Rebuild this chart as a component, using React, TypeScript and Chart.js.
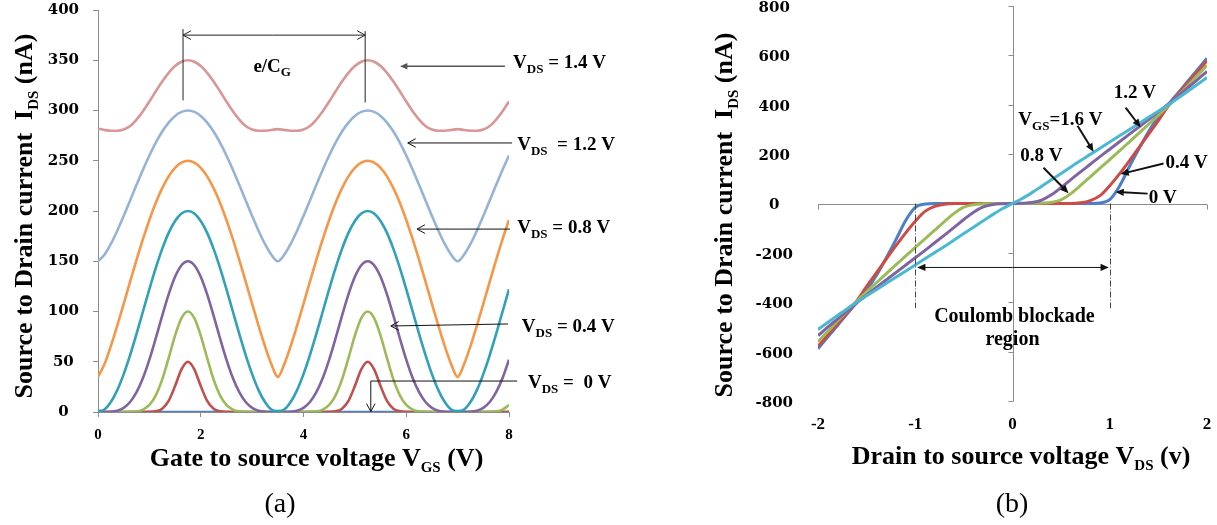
import React, { useEffect, useRef } from 'react';
import { Chart, registerables } from 'chart.js';

Chart.register(...registerables);

const SERIF = '"Liberation Serif", "Times New Roman", serif';
const TICK_SERIF = '"DejaVu Serif", serif';
const AXIS_GRAY = '#8C8C8C';

// ---------------- Panel (a): I_DS vs V_GS ----------------
const vgs = [
  0, 0.125, 0.25, 0.375, 0.5, 0.625, 0.75, 0.875, 1, 1.125, 1.25, 1.375, 1.5, 1.625, 1.75,
  1.875, 2, 2.125, 2.25, 2.375, 2.5, 2.625, 2.75, 2.875, 3, 3.125, 3.25, 3.375, 3.5,
  3.625, 3.75, 3.875, 4, 4.125, 4.25, 4.375, 4.5, 4.625, 4.75, 4.875, 5, 5.125, 5.25,
  5.375, 5.5, 5.625, 5.75, 5.875, 6, 6.125, 6.25, 6.375, 6.5, 6.625, 6.75, 6.875, 7,
  7.125, 7.25, 7.375, 7.5, 7.625, 7.75, 7.875, 8,
];
const ids_vds14 = [
  282, 280.6, 279.8, 279.8, 281, 284.5, 291.0, 299.3, 308.9, 319.1, 328.9, 337.5, 344.2, 348.5, 350,
  348.5, 344.2, 337.5, 328.9, 319.1, 308.9, 299.3, 291.0, 284.5, 281, 279.9, 279.9, 280.6, 281.5,
  280.6, 279.9, 279.9, 281, 284.5, 291.0, 299.3, 308.9, 319.1, 328.9, 337.5, 344.2, 348.5, 350,
  348.5, 344.2, 337.5, 328.9, 319.1, 308.9, 299.3, 291.0, 284.5, 281, 279.9, 279.9, 280.6, 281.5,
  280.6, 279.9, 279.9, 281, 284.5, 291.0, 299.3, 308.9,
];
const ids_vds12 = [
  150, 156.4, 167.2, 180.4, 195.1, 210.5, 226.0, 241.1, 255.2, 268.1, 279.1, 288.0, 294.6, 298.6, 300,
  298.6, 294.6, 288.0, 279.1, 268.1, 255.2, 241.1, 226.0, 210.5, 195.1, 180.4, 167.2, 156.4, 150,
  156.4, 167.2, 180.4, 195.1, 210.5, 226.0, 241.1, 255.2, 268.1, 279.1, 288.0, 294.6, 298.6, 300,
  298.6, 294.6, 288.0, 279.1, 268.1, 255.2, 241.1, 226.0, 210.5, 195.1, 180.4, 167.2, 156.4, 150,
  156.4, 167.2, 180.4, 195.1, 210.5, 226.0, 241.1, 255.2,
];
const ids_vds10 = [
  35, 47.5, 65.5, 85.9, 107.6, 129.7, 151.3, 172.0, 191.1, 208.2, 222.7, 234.5, 243.0, 248.2, 250,
  248.2, 243.0, 234.5, 222.7, 208.2, 191.1, 172.0, 151.3, 129.7, 107.6, 85.9, 65.5, 47.5, 35,
  47.5, 65.5, 85.9, 107.6, 129.7, 151.3, 172.0, 191.1, 208.2, 222.7, 234.5, 243.0, 248.2, 250,
  248.2, 243.0, 234.5, 222.7, 208.2, 191.1, 172.0, 151.3, 129.7, 107.6, 85.9, 65.5, 47.5, 35,
  47.5, 65.5, 85.9, 107.6, 129.7, 151.3, 172.0, 191.1,
];
const ids_vds08 = [
  1, 2.5, 9.9, 21.8, 37.7, 56.6, 77.7, 100, 122.2, 143.4, 162.3, 178.2, 190.1, 197.5, 200,
  197.5, 190.1, 178.2, 162.3, 143.4, 122.2, 100, 77.7, 56.6, 37.7, 21.8, 9.9, 2.5, 1,
  2.5, 9.9, 21.8, 37.7, 56.6, 77.7, 100, 122.2, 143.4, 162.3, 178.2, 190.1, 197.5, 200,
  197.5, 190.1, 178.2, 162.3, 143.4, 122.2, 100, 77.7, 56.6, 37.7, 21.8, 9.9, 2.5, 1,
  2.5, 9.9, 21.8, 37.7, 56.6, 77.7, 100, 122.2,
];
const ids_vds06 = [
  0, 0, 0.2, 1.3, 4.1, 9.9, 19.7, 33.8, 52.1, 73.4, 95.8, 117.0, 134.5, 146.0, 150,
  146.0, 134.5, 117.0, 95.8, 73.4, 52.1, 33.8, 19.7, 9.9, 4.1, 1.3, 0.2, 0, 0,
  0, 0.2, 1.3, 4.1, 9.9, 19.7, 33.8, 52.1, 73.4, 95.8, 117.0, 134.5, 146.0, 150,
  146.0, 134.5, 117.0, 95.8, 73.4, 52.1, 33.8, 19.7, 9.9, 4.1, 1.3, 0.2, 0, 0,
  0, 0.2, 1.3, 4.1, 9.9, 19.7, 33.8, 52.1,
];
const ids_vds04 = [
  0, 0, 0, 0, 0, 0.1, 0.6, 2.4, 7.0, 16.6, 32.4, 53.6, 76.0, 93.4, 100,
  93.4, 76.0, 53.6, 32.4, 16.6, 7.0, 2.4, 0.6, 0.1, 0, 0, 0, 0, 0,
  0, 0, 0, 0, 0.1, 0.6, 2.4, 7.0, 16.6, 32.4, 53.6, 76.0, 93.4, 100,
  93.4, 76.0, 53.6, 32.4, 16.6, 7.0, 2.4, 0.6, 0.1, 0, 0, 0, 0, 0,
  0, 0, 0, 0, 0.1, 0.6, 2.4, 7.0,
];
const ids_vds02 = [
  0, 0, 0, 0, 0, 0, 0, 0, 0.1, 0.7, 3.3, 11.1, 25.8, 42.4, 50,
  42.4, 25.8, 11.1, 3.3, 0.7, 0.1, 0, 0, 0, 0, 0, 0, 0, 0,
  0, 0, 0, 0, 0, 0, 0, 0.1, 0.7, 3.3, 11.1, 25.8, 42.4, 50,
  42.4, 25.8, 11.1, 3.3, 0.7, 0.1, 0, 0, 0, 0, 0, 0, 0, 0,
  0, 0, 0, 0, 0, 0, 0, 0.1,
];
const ids_vds00 = [
  0, 0, 0, 0, 0, 0, 0, 0, 0, 0, 0, 0, 0, 0, 0,
  0, 0, 0, 0, 0, 0, 0, 0, 0, 0, 0, 0, 0, 0,
  0, 0, 0, 0, 0, 0, 0, 0, 0, 0, 0, 0, 0, 0,
  0, 0, 0, 0, 0, 0, 0, 0, 0, 0, 0, 0, 0, 0,
  0, 0, 0, 0, 0, 0, 0, 0,
];

// ---------------- Panel (b): I_DS vs V_DS ----------------
const vds = [
  -2, -1.9, -1.8, -1.7, -1.6, -1.5, -1.4, -1.3, -1.2, -1.1, -1, -0.9, -0.8, -0.7, -0.6, -0.5,
  -0.4, -0.3, -0.2, -0.1, 0, 0.1, 0.2, 0.3, 0.4, 0.5, 0.6, 0.7, 0.8, 0.9, 1, 1.1, 1.2, 1.3,
  1.4, 1.5, 1.6, 1.7, 1.8, 1.9, 2,
];
const ids_vgs00 = [
  -588, -541, -494, -447, -400, -352, -292, -222, -148, -70, -16, -2,
  0, 0, 0, 0, 0, 0, 0, 0, 0, 0, 0, 0, 0, 0, 0, 0, 0,
  2, 16, 70, 148, 222, 292, 352, 400, 447, 494, 541, 588,
];
const ids_vgs04 = [
  -578, -533, -488, -443, -393, -336, -281, -226, -172, -120, -72, -32, -12, -3,
  0, 0, 0, 0, 0, 0, 0, 0, 0, 0, 0, 0, 0,
  3, 12, 32, 72, 120, 172, 226, 281, 336, 393, 443, 488, 533, 578,
];
const ids_vgs08 = [
  -560, -518, -476, -435, -395, -358, -321, -285, -249, -213, -178, -143, -108, -73, -40, -15,
  -5, -1.5, -0.5, 0, 0, 0, 0.5, 1.5, 5, 15, 40, 73, 108, 143, 178, 213, 249, 285, 321, 358,
  395, 435, 476, 518, 560,
];
const ids_vgs12 = [
  -535, -501, -468, -435, -402, -371, -340, -310, -280, -250, -220, -190, -159, -128, -97, -65,
  -35, -14, -4, -1, 0, 1, 4, 14, 35, 65, 97, 128, 159, 190, 220, 250, 280, 310, 340, 371,
  402, 435, 468, 501, 535,
];
const ids_vgs16 = [
  -510, -482, -454, -426, -399, -374, -349, -324, -299, -274, -249, -224, -199, -174, -148, -122,
  -96, -70, -44, -20, 0, 20, 44, 70, 96, 122, 148, 174, 199, 224, 249, 274, 299, 324, 349, 374,
  399, 426, 454, 482, 510,
];

// ---------------- helpers ----------------
type Seg = { t: string; s: number; dy?: number };

function drawRich(ctx: CanvasRenderingContext2D, segs: Seg[], x: number, y: number, align: 'left' | 'center', weight = 'bold') {
  let w = 0;
  for (const g of segs) {
    ctx.font = `${weight} ${g.s}px ${SERIF}`;
    w += ctx.measureText(g.t).width;
  }
  let cx = align === 'center' ? x - w / 2 : x;
  ctx.textAlign = 'left';
  ctx.textBaseline = 'alphabetic';
  ctx.fillStyle = '#000';
  for (const g of segs) {
    ctx.font = `${weight} ${g.s}px ${SERIF}`;
    ctx.fillText(g.t, cx, y + (g.dy || 0));
    cx += ctx.measureText(g.t).width;
  }
}

function drawRotated(ctx: CanvasRenderingContext2D, segs: Seg[], bx: number, cy: number) {
  ctx.save();
  ctx.translate(bx, cy);
  ctx.rotate(-Math.PI / 2);
  drawRich(ctx, segs, 0, 0, 'center');
  ctx.restore();
}

function line(ctx: CanvasRenderingContext2D, x1: number, y1: number, x2: number, y2: number, color: string, width: number) {
  ctx.strokeStyle = color;
  ctx.lineWidth = width;
  ctx.beginPath();
  ctx.moveTo(x1, y1);
  ctx.lineTo(x2, y2);
  ctx.stroke();
}

function arrow(
  ctx: CanvasRenderingContext2D, x1: number, y1: number, x2: number, y2: number,
  head: 'open' | 'filled', size: number, width: number, color: string,
) {
  const ang = Math.atan2(y2 - y1, x2 - x1);
  const a = head === 'open' ? 0.5 : 0.42;
  const p1x = x2 - size * Math.cos(ang - a), p1y = y2 - size * Math.sin(ang - a);
  const p2x = x2 - size * Math.cos(ang + a), p2y = y2 - size * Math.sin(ang + a);
  const ex = head === 'filled' ? x2 - size * 0.8 * Math.cos(ang) : x2;
  const ey = head === 'filled' ? y2 - size * 0.8 * Math.sin(ang) : y2;
  line(ctx, x1, y1, ex, ey, color, width);
  ctx.fillStyle = color;
  ctx.strokeStyle = color;
  ctx.beginPath();
  if (head === 'filled') {
    ctx.moveTo(x2, y2);
    ctx.lineTo(p1x, p1y);
    ctx.lineTo(p2x, p2y);
    ctx.closePath();
    ctx.fill();
  } else {
    ctx.lineWidth = width;
    ctx.moveTo(p1x, p1y);
    ctx.lineTo(x2, y2);
    ctx.lineTo(p2x, p2y);
    ctx.stroke();
  }
}

const pts = (xs: number[], ys: number[]) => xs.map((x, i) => ({ x, y: ys[i] }));

const vSub = (sub: string, rest: string, main = 19, small = 13): Seg[] => [
  { t: 'V', s: main },
  { t: sub, s: small, dy: 5 },
  { t: rest, s: main },
];

// ---------------- plugins ----------------
const annotateA = {
  id: 'annotateA',
  afterDatasetsDraw(chart: any) {
    const ctx: CanvasRenderingContext2D = chart.ctx;
    const X = (v: number) => chart.scales.x.getPixelForValue(v);
    const Y = (v: number) => chart.scales.y.getPixelForValue(v);
    ctx.save();
    // period marker e/C_G
    line(ctx, X(1.655), Y(381), X(1.655), Y(310), '#222', 1);
    line(ctx, X(5.2), Y(379), X(5.2), Y(308), '#222', 1);
    arrow(ctx, X(3.4), Y(375), X(1.655), Y(375), 'open', 9, 1, '#222');
    arrow(ctx, X(3.4), Y(375), X(5.2), Y(375), 'open', 9, 1, '#222');
    drawRich(ctx, [{ t: 'e/C', s: 19 }, { t: 'G', s: 13, dy: 4 }], X(3.39), Y(338.6), 'center');

    // V_DS labels with arrows
    arrow(ctx, X(7.92), Y(344), X(5.88), Y(344), 'filled', 8, 1.5, '#555');
    drawRich(ctx, vSub('DS', ' = 1.4 V'), X(8.08), Y(342.6), 'left');

    arrow(ctx, X(8.06), Y(267.7), X(6.03), Y(267.7), 'open', 9, 1, '#111');
    drawRich(ctx, vSub('DS', '  = 1.2 V'), X(8.16), Y(261), 'left');

    arrow(ctx, X(8.02), Y(182), X(6.21), Y(182), 'open', 9, 1, '#111');
    drawRich(ctx, vSub('DS', ' = 0.8 V'), X(8.16), Y(178), 'left');

    arrow(ctx, X(7.98), Y(87.6), X(5.7), Y(85.6), 'open', 9, 1, '#111');
    drawRich(ctx, vSub('DS', ' = 0.4 V'), X(8.25), Y(80), 'left');

    line(ctx, X(8.16), Y(30.8), X(5.31), Y(30.8), '#111', 1);
    arrow(ctx, X(5.31), Y(30.8), X(5.31), Y(0.5), 'open', 9, 1, '#111');
    drawRich(ctx, vSub('DS', ' =  0 V'), X(8.37), Y(24), 'left');
    ctx.restore();
  },
  afterDraw(chart: any) {
    const ctx: CanvasRenderingContext2D = chart.ctx;
    ctx.save();
    drawRotated(ctx, [
      { t: 'Source to Drain current  I', s: 26 },
      { t: 'DS', s: 15, dy: 6 },
      { t: ' (nA)', s: 26 },
    ], 32, 216);
    drawRich(ctx, [
      { t: 'Gate to source voltage V', s: 26 },
      { t: 'GS', s: 15, dy: 6 },
      { t: ' (V)', s: 26 },
    ], 316.5, 466, 'center');
    drawRich(ctx, [{ t: '(a)', s: 28 }], 280, 512, 'center', 'normal');
    ctx.restore();
  },
};

const annotateB = {
  id: 'annotateB',
  beforeDatasetsDraw(chart: any) {
    const ctx: CanvasRenderingContext2D = chart.ctx;
    const xs = chart.scales.x, ys = chart.scales.y;
    const X = (v: number) => xs.getPixelForValue(v);
    const Y = (v: number) => ys.getPixelForValue(v);
    const x0 = Math.round(X(0)) + 0.5;
    const y0 = Math.round(Y(0)) + 0.5;
    ctx.save();
    line(ctx, x0, Y(800), x0, Y(-800), AXIS_GRAY, 1);
    for (const t of ys.ticks) {
      const yy = Math.round(Y(t.value)) + 0.5;
      line(ctx, x0 - 5, yy, x0, yy, AXIS_GRAY, 1);
    }
    line(ctx, X(-2), y0, X(2), y0, AXIS_GRAY, 1);
    for (const t of xs.ticks) {
      const xx = Math.round(X(t.value)) + 0.5;
      line(ctx, xx, y0, xx, y0 + 5, AXIS_GRAY, 1);
    }
    ctx.restore();
  },
  afterDatasetsDraw(chart: any) {
    const ctx: CanvasRenderingContext2D = chart.ctx;
    const X = (v: number) => chart.scales.x.getPixelForValue(v);
    const Y = (v: number) => chart.scales.y.getPixelForValue(v);
    ctx.save();
    // Coulomb blockade region boundaries
    ctx.setLineDash([6, 2, 1, 2]);
    line(ctx, Math.round(X(-1)) + 0.5, Y(0), Math.round(X(-1)) + 0.5, Y(-424), '#444', 1);
    line(ctx, Math.round(X(1)) + 0.5, Y(0), Math.round(X(1)) + 0.5, Y(-424), '#444', 1);
    ctx.setLineDash([]);
    arrow(ctx, X(0), Y(-259), X(-0.98), Y(-259), 'filled', 9, 1, '#111');
    arrow(ctx, X(0), Y(-259), X(0.99), Y(-259), 'filled', 9, 1, '#111');
    drawRich(ctx, [{ t: 'Coulomb blockade', s: 20 }], X(0.02), Y(-481), 'center');
    drawRich(ctx, [{ t: 'region', s: 20 }], X(0), Y(-574), 'center');

    // V_GS labels with arrows
    drawRich(ctx, [{ t: '1.2 V', s: 19 }], X(1.04), Y(428), 'left');
    arrow(ctx, X(1.163), Y(388), X(1.317), Y(309), 'filled', 9, 2, '#111');

    drawRich(ctx, vSub('GS', '=1.6 V'), X(0.06), Y(319), 'left');
    arrow(ctx, X(0.669), Y(315), X(0.833), Y(210), 'filled', 9, 2, '#111');

    drawRich(ctx, [{ t: '0.8 V', s: 19 }], X(0.08), Y(174), 'left');
    arrow(ctx, X(0.319), Y(145), X(0.576), Y(42), 'filled', 9, 2, '#111');

    drawRich(ctx, [{ t: '0.4 V', s: 19 }], X(1.574), Y(145), 'left');
    arrow(ctx, X(1.553), Y(162), X(1.111), Y(119), 'filled', 9, 2, '#111');

    drawRich(ctx, [{ t: '0 V', s: 19 }], X(1.4), Y(4), 'left');
    arrow(ctx, X(1.389), Y(40), X(1.06), Y(47), 'filled', 9, 2, '#111');
    ctx.restore();
  },
  afterDraw(chart: any) {
    const ctx: CanvasRenderingContext2D = chart.ctx;
    ctx.save();
    drawRotated(ctx, [
      { t: 'Source to Drain current  I', s: 26 },
      { t: 'DS', s: 15, dy: 6 },
      { t: ' (nA)', s: 26 },
    ], 32, 215);
    drawRich(ctx, [
      { t: 'Drain to source voltage V', s: 26 },
      { t: 'DS', s: 15, dy: 6 },
      { t: ' (v)', s: 26 },
    ], 321, 464, 'center');
    drawRich(ctx, [{ t: '(b)', s: 28 }], 312, 512, 'center', 'normal');
    ctx.restore();
  },
};

function lineDs(label: string, xs: number[], ys: number[], color: string, width: number) {
  return {
    label,
    data: pts(xs, ys),
    borderColor: color,
    backgroundColor: color,
    borderWidth: width,
    pointRadius: 0,
    fill: false,
    cubicInterpolationMode: 'monotone' as const,
  };
}

function configA(): any {
  const W = 2.6;
  return {
    type: 'line',
    data: {
      datasets: [
        lineDs('VDS = 1.4 V', vgs, ids_vds14, '#D99694', W),
        lineDs('VDS = 1.2 V', vgs, ids_vds12, '#95B3D7', W),
        lineDs('VDS = 1.0 V', vgs, ids_vds10, '#F79646', W),
        lineDs('VDS = 0.8 V', vgs, ids_vds08, '#31A1BA', W),
        lineDs('VDS = 0.6 V', vgs, ids_vds06, '#8064A2', W),
        lineDs('VDS = 0.4 V', vgs, ids_vds04, '#9BBB59', W),
        lineDs('VDS = 0.2 V', vgs, ids_vds02, '#C0504D', W),
        lineDs('VDS = 0 V', vgs, ids_vds00, '#4F81BD', W),
      ],
    },
    options: {
      responsive: false,
      animation: false,
      events: [],
      layout: { padding: { left: 0, top: 10, right: 191, bottom: 53 } },
      plugins: { legend: { display: false }, tooltip: { enabled: false } },
      scales: {
        x: {
          type: 'linear', min: 0, max: 8,
          ticks: { stepSize: 2, color: '#000', padding: 9, maxRotation: 0, font: { family: SERIF, size: 15, weight: 'bold' } },
          grid: { display: true, drawOnChartArea: false, drawTicks: true, tickLength: 5, color: AXIS_GRAY },
          border: { display: true, color: AXIS_GRAY, width: 1 },
          afterFit: (s: any) => { s.height = 60; s.paddingLeft = 0; s.paddingRight = 0; },
        },
        y: {
          type: 'linear', min: 0, max: 400,
          ticks: { stepSize: 50, color: '#000', padding: 14, crossAlign: 'center', font: { family: TICK_SERIF, size: 15, weight: 'bold' } },
          grid: { display: true, drawOnChartArea: false, drawTicks: true, tickLength: 5, color: AXIS_GRAY },
          border: { display: true, color: AXIS_GRAY, width: 1 },
          afterFit: (s: any) => { s.width = 98; s.paddingTop = 0; s.paddingBottom = 0; },
        },
      },
    },
    plugins: [annotateA],
  };
}

function configB(): any {
  const W = 3;
  return {
    type: 'line',
    data: {
      datasets: [
        lineDs('VGS = 1.6 V', vds, ids_vgs16, '#4BB8D3', W),
        lineDs('VGS = 1.2 V', vds, ids_vgs12, '#8064A2', W),
        lineDs('VGS = 0.8 V', vds, ids_vgs08, '#9BBB59', W),
        lineDs('VGS = 0.4 V', vds, ids_vgs04, '#CF4A45', W),
        lineDs('VGS = 0 V', vds, ids_vgs00, '#4A80C8', W),
      ],
    },
    options: {
      responsive: false,
      animation: false,
      events: [],
      layout: { padding: { left: 0, top: 6, right: 10, bottom: 64 } },
      plugins: { legend: { display: false }, tooltip: { enabled: false } },
      scales: {
        x: {
          type: 'linear', min: -2, max: 2,
          ticks: { stepSize: 1, color: '#000', padding: 13, maxRotation: 0, font: { family: SERIF, size: 17, weight: 'bold' } },
          grid: { display: false, drawTicks: false },
          border: { display: false },
          afterFit: (s: any) => { s.height = 60; s.paddingLeft = 0; s.paddingRight = 0; },
        },
        y: {
          type: 'linear', min: -800, max: 800,
          ticks: { stepSize: 200, color: '#000', padding: 25, crossAlign: 'center', labelOffset: 2, font: { family: TICK_SERIF, size: 15, weight: 'bold' } },
          grid: { display: false, drawTicks: false },
          border: { display: false },
          afterFit: (s: any) => { s.width = 118; s.paddingTop = 0; s.paddingBottom = 0; },
        },
      },
    },
    plugins: [annotateB],
  };
}

export default function App() {
  const refA = useRef<HTMLCanvasElement>(null);
  const refB = useRef<HTMLCanvasElement>(null);

  useEffect(() => {
    const a = new Chart(refA.current as HTMLCanvasElement, configA());
    const b = new Chart(refB.current as HTMLCanvasElement, configB());
    return () => {
      a.destroy();
      b.destroy();
    };
  }, []);

  return (
    <div style={{ position: 'fixed', left: 0, top: 0, width: 1217, height: 525, background: '#fff', overflow: 'hidden' }}>
      <canvas ref={refA} width={700} height={525} style={{ position: 'absolute', left: 0, top: 0, width: 700, height: 525 }} />
      <canvas ref={refB} width={517} height={525} style={{ position: 'absolute', left: 700, top: 0, width: 517, height: 525 }} />
    </div>
  );
}
